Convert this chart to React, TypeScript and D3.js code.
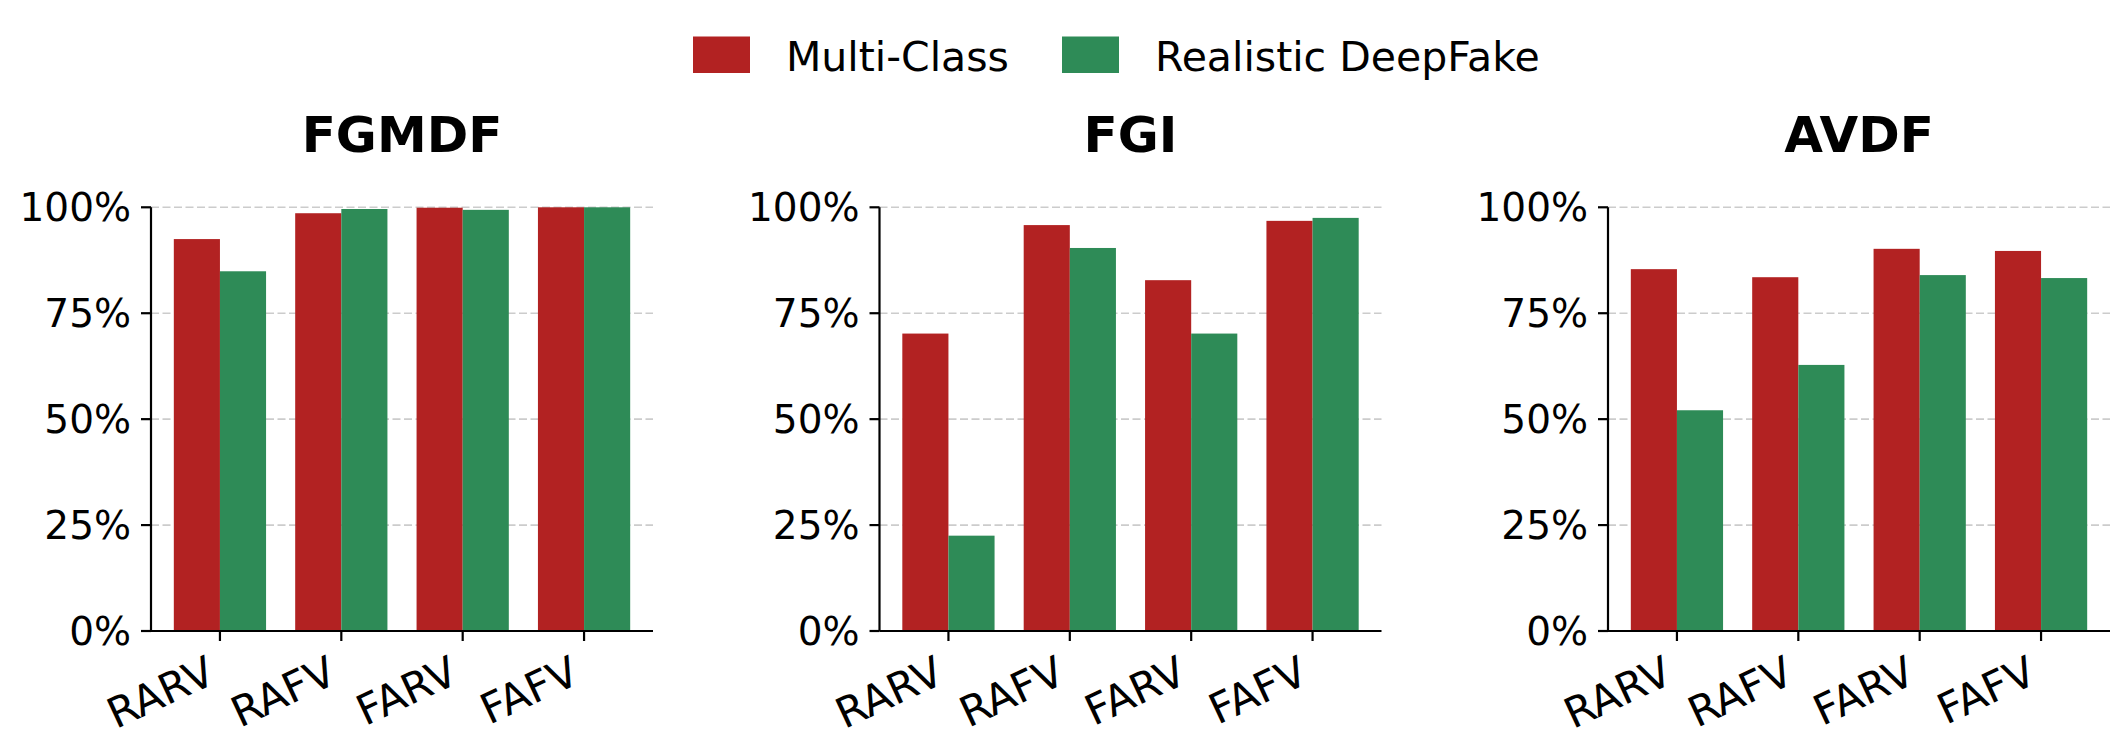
import React from 'react';
import * as d3 from 'd3';

const categories = ['RARV', 'RAFV', 'FARV', 'FAFV'];
const datasets = ['FGMDF', 'FGI', 'AVDF'];
const seriesNames = ['Multi-Class', 'Realistic DeepFake'];
const seriesColors = ['#B22222', '#2E8B57'];

const multiClass = [
  [0.925, 0.986, 0.999, 1.0],
  [0.702, 0.958, 0.828, 0.968],
  [0.854, 0.835, 0.902, 0.897],
];
const realistic = [
  [0.849, 0.996, 0.994, 1.0],
  [0.225, 0.904, 0.702, 0.975],
  [0.521, 0.628, 0.840, 0.833],
];
const yTicks = [0, 0.25, 0.5, 0.75, 1.0];

const W = 2128;
const H = 755;
const FONT = '"DejaVu Sans", sans-serif';
const panelLefts = [151, 879.5, 1608];
const panelWidth = 502;
const top = 207.3;
const bottom = 631;
const barW = 0.38;

function Panel({ idx }: { idx: number }) {
  const left = panelLefts[idx];
  const x = d3.scaleLinear().domain([-0.568, 3.568]).range([left, left + panelWidth]);
  const y = d3.scaleLinear().domain([0, 1]).range([bottom, top]);
  const series = [multiClass[idx], realistic[idx]];
  const fmt = d3.format('.0%');
  return (
    <g>
      {yTicks.slice(1).map((t) => (
        <line key={'g' + t} x1={left} x2={left + panelWidth} y1={y(t)} y2={y(t)}
          stroke="#cccccc" strokeWidth={1.6} strokeDasharray="8,3.5" />
      ))}
      {series.map((vals, s) =>
        vals.map((v, i) => (
          <rect key={s + '-' + i}
            x={x(i - barW + s * barW)}
            y={y(v)}
            width={x(barW) - x(0)}
            height={y(0) - y(v)}
            fill={seriesColors[s]} />
        ))
      )}
      <line x1={left} x2={left} y1={y(1)} y2={y(0)} stroke="#000" strokeWidth={2.2} />
      <line x1={left} x2={left + panelWidth} y1={y(0)} y2={y(0)} stroke="#000" strokeWidth={2.2} />
      {yTicks.map((t) => (
        <g key={'yt' + t}>
          <line x1={left - 10} x2={left} y1={y(t)} y2={y(t)} stroke="#000" strokeWidth={2.2} />
          <text x={left - 20} y={y(t)} dy="0.36em" textAnchor="end" fontSize={39} fontFamily={FONT} fill="#000">
            {fmt(t)}
          </text>
        </g>
      ))}
      {categories.map((c, i) => (
        <g key={'xt' + c}>
          <line x1={x(i)} x2={x(i)} y1={y(0)} y2={y(0) + 10} stroke="#000" strokeWidth={2.2} />
          <text transform={`translate(${x(i) - 2.5},${y(0) + 51}) rotate(-25)`} textAnchor="end"
            fontSize={42} fontFamily={FONT} fill="#000">
            {c}
          </text>
        </g>
      ))}
      <text x={left + panelWidth / 2} y={151.7} textAnchor="middle" fontSize={50} fontWeight="bold"
        fontFamily={FONT} fill="#000">
        {datasets[idx]}
      </text>
    </g>
  );
}

export default function App() {
  const legendX = [693, 1062];
  return (
    <svg width={W} height={H} viewBox={`0 0 ${W} ${H}`}
      style={{ position: 'absolute', left: 0, top: 0, background: '#fff' }}>
      <rect x={0} y={0} width={W} height={H} fill="#fff" />
      {seriesNames.map((n, s) => (
        <g key={n}>
          <rect x={legendX[s]} y={36.5} width={57} height={36.5} fill={seriesColors[s]} />
          <text x={legendX[s] + 93} y={70.5} fontSize={41} fontFamily={FONT} fill="#000">{n}</text>
        </g>
      ))}
      {datasets.map((d, i) => (
        <Panel key={d} idx={i} />
      ))}
    </svg>
  );
}
